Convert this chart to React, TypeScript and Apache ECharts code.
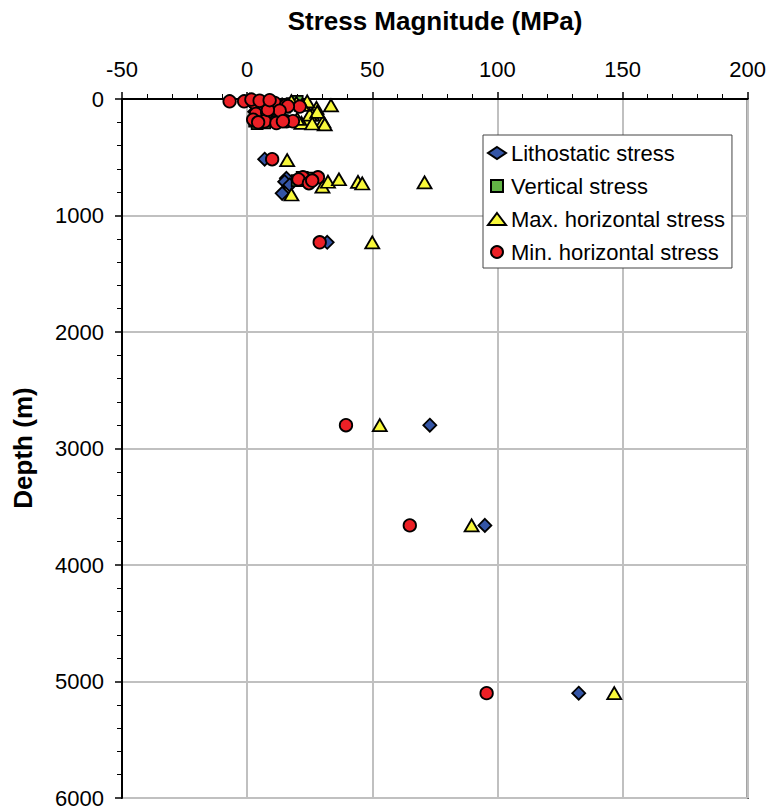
import React, { useEffect, useRef } from "react";
import * as echarts from "echarts";

const FONT = "'Liberation Sans', Arial, Helvetica, sans-serif";

// Axis ranges / ticks
const xMin = -50;
const xMax = 200;
const xInterval = 50;
const yMin = 0;
const yMax = 6000;
const yInterval = 1000;

const seriesNames = [
  "Lithostatic stress",
  "Vertical stress",
  "Max. horizontal stress",
  "Min. horizontal stress",
];

// [stress (MPa), depth (m)]
const lithostatic: number[][] = [
  [1, 10], [2, 25], [3, 40], [4, 60], [5, 80], [3, 110], [4, 140], [5, 170], [6, 195],
  [8, 60], [10, 30], [12, 90], [14, 50],
  [7, 517], [15.7, 681], [15, 710], [17, 738], [14, 810],
  [32, 1230], [73, 2800], [95, 3660], [132.5, 5100],
];

const vertical: number[][] = [
  [4, 212], [7, 205], [3, 190], [6, 170], [10, 150], [12, 100], [15, 70], [18, 40], [20, 20],
  [22, 672], [24, 680], [20, 700],
];

const maxHorizontal: number[][] = [
  [33.5, 55], [27.7, 76], [26, 134], [30.4, 191], [23.7, 191], [21.7, 205], [25, 134],
  [19.7, 33], [17.7, 19], [24, 20], [22, 50], [28, 110], [31, 218], [26, 210], [20, 170],
  [16, 525], [17.7, 820], [30.1, 752], [32.3, 710], [36.7, 689], [44.3, 712], [46, 725], [70.9, 715],
  [50, 1230], [53, 2800], [89.7, 3660], [146.7, 5100],
];

const minHorizontal: number[][] = [
  [-7, 20], [-1.2, 20], [3, 34], [7.7, 42], [11, 34], [15.5, 55], [21, 65], [16.3, 62],
  [3.5, 128], [8, 116], [13, 100], [2.4, 177], [7, 191], [11.7, 206], [15.7, 191],
  [18.3, 191], [14.3, 191], [4.4, 200], [8.3, 94], [1.7, 5], [5, 15], [9, 10],
  [10, 517], [22.3, 672], [20.5, 690], [24.7, 723], [28.3, 672], [26, 700],
  [29, 1230], [39.5, 2800], [65, 3660], [95.7, 5100],
];

const colors = ["#3455A6", "#63B546", "#F8F83A", "#EC2026"];

export default function App() {
  const ref = useRef<HTMLDivElement>(null);

  useEffect(() => {
    if (!ref.current) return;
    const chart = echarts.init(ref.current, undefined, { renderer: "svg" });
    const border = { borderColor: "#000", borderWidth: 1.8, opacity: 1 };
    const plain = (v: number) => String(v);
    const option: any = {
      animation: false,
      backgroundColor: "#fff",
      textStyle: { fontFamily: FONT },
      grid: {
        left: 122,
        right: 21,
        top: 99,
        bottom: 12,
        show: true,
        borderColor: "#000",
        borderWidth: 2,
        backgroundColor: "transparent",
      },
      legend: {
        orient: "vertical",
        left: 483,
        top: 135,
        padding: [7, 7, 5, 4],
        itemGap: 11,
        itemWidth: 18,
        itemHeight: 12,
        borderColor: "#444",
        borderWidth: 1,
        backgroundColor: "#fff",
        textStyle: { fontSize: 22, lineHeight: 22, color: "#000", fontFamily: FONT },
        data: [
          { name: seriesNames[0] },
          { name: seriesNames[1], icon: "path://M0 0L10 0L10 10L0 10Z" },
          { name: seriesNames[2] },
          { name: seriesNames[3] },
        ],
      },
      xAxis: {
        type: "value",
        position: "top",
        min: xMin,
        max: xMax,
        interval: xInterval,
        axisLine: { show: true, onZero: false, lineStyle: { color: "#000", width: 2 } },
        axisTick: { show: true, inside: false, length: 7, lineStyle: { color: "#000", width: 1.5 } },
        minorTick: { show: true, splitNumber: 5, length: 5, lineStyle: { color: "#000", width: 1 } },
        splitLine: { show: true, lineStyle: { color: "#C0C0C0", width: 2 } },
        axisLabel: { fontSize: 22, color: "#000", margin: 19, fontFamily: FONT, formatter: plain },
      },
      yAxis: {
        type: "value",
        inverse: true,
        min: yMin,
        max: yMax,
        interval: yInterval,
        axisLine: { show: true, onZero: false, lineStyle: { color: "#000", width: 2 } },
        axisTick: { show: true, inside: false, length: 7, lineStyle: { color: "#000", width: 1.5 } },
        minorTick: { show: true, splitNumber: 5, length: 5, lineStyle: { color: "#000", width: 1 } },
        splitLine: { show: true, lineStyle: { color: "#C0C0C0", width: 2 } },
        axisLabel: { fontSize: 22, color: "#000", margin: 18, fontFamily: FONT, formatter: plain },
      },
      graphic: [
        {
          type: "text",
          x: 435,
          y: 21,
          style: {
            text: "Stress Magnitude (MPa)",
            font: `bold 26px ${FONT}`,
            fill: "#000",
            align: "center",
            verticalAlign: "middle",
          },
        },
        {
          type: "text",
          x: 23,
          y: 448,
          rotation: Math.PI / 2,
          style: {
            text: "Depth (m)",
            font: `bold 26px ${FONT}`,
            fill: "#000",
            align: "center",
            verticalAlign: "middle",
          },
        },
      ],
      series: [
        {
          name: seriesNames[0],
          type: "scatter",
          data: lithostatic,
          symbol: "diamond",
          symbolSize: 13,
          itemStyle: { color: colors[0], ...border },
        },
        {
          name: seriesNames[1],
          type: "scatter",
          data: vertical,
          symbol: "rect",
          symbolSize: 11,
          itemStyle: { color: colors[1], ...border },
        },
        {
          name: seriesNames[2],
          type: "scatter",
          data: maxHorizontal,
          symbol: "triangle",
          symbolSize: [14, 12],
          itemStyle: { color: colors[2], ...border },
        },
        {
          name: seriesNames[3],
          type: "scatter",
          data: minHorizontal,
          symbol: "circle",
          symbolSize: 12.5,
          itemStyle: { color: colors[3], ...border },
        },
      ],
    };
    chart.setOption(option);
    return () => chart.dispose();
  }, []);

  return (
    <div
      ref={ref}
      style={{ position: "fixed", left: 0, top: 0, width: 769, height: 810 }}
    />
  );
}
